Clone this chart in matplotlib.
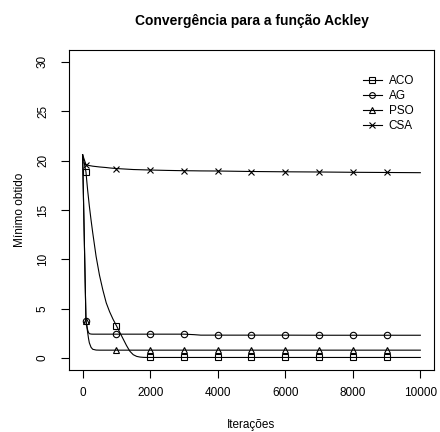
import matplotlib.pyplot as plt

plt.rcParams["font.family"] = ["Liberation Sans", "DejaVu Sans"]

iteracoes = [0, 100, 125, 150, 175, 200, 250, 300, 400, 500, 600, 700, 800, 900,
             1000, 1100, 1200, 1300, 1400, 1500, 1600, 1700, 1800, 1900, 2000,
             2500, 3000, 3300, 3500, 4000, 5000, 6000, 7000, 8000, 9000, 10000]

aco = [20.6, 18.85, 17.9, 17.0, 16.2, 15.4, 14.0, 12.7, 10.3, 8.4, 6.9, 5.6, 4.7, 3.95,
       3.3, 2.62, 1.95, 1.28, 0.7, 0.35, 0.18, 0.11, 0.08, 0.07, 0.07,
       0.07, 0.07, 0.07, 0.07, 0.07, 0.07, 0.07, 0.07, 0.07, 0.07, 0.07]

ag = [20.6, 3.75, 3.3, 2.85, 2.6, 2.48, 2.44, 2.43, 2.43, 2.43, 2.43, 2.43, 2.43, 2.43,
      2.43, 2.43, 2.43, 2.43, 2.43, 2.43, 2.43, 2.43, 2.43, 2.43, 2.43,
      2.43, 2.43, 2.38, 2.33, 2.33, 2.33, 2.33, 2.32, 2.32, 2.32, 2.32]

pso = [20.6, 3.75, 3.2, 2.6, 2.0, 1.55, 1.1, 0.9, 0.82, 0.81, 0.81, 0.81, 0.81, 0.81,
       0.81, 0.81, 0.81, 0.81, 0.81, 0.81, 0.81, 0.81, 0.81, 0.81, 0.81,
       0.81, 0.81, 0.81, 0.81, 0.81, 0.81, 0.81, 0.81, 0.81, 0.81, 0.81]

csa = [20.6, 19.6, 19.57, 19.55, 19.52, 19.5, 19.47, 19.44, 19.4, 19.36, 19.33, 19.3, 19.26, 19.23,
       19.2, 19.18, 19.16, 19.14, 19.12, 19.1, 19.09, 19.08, 19.07, 19.06, 19.05,
       19.01, 18.98, 18.97, 18.96, 18.95, 18.9, 18.87, 18.85, 18.82, 18.8, 18.78]

# marker positions: 100, 1000, 2000, ..., 9000
marcas = [iteracoes.index(v) for v in [100, 1000, 2000, 3000, 4000, 5000, 6000, 7000, 8000, 9000]]

fig = plt.figure(figsize=(4.4, 4.32), dpi=100)
ax = fig.add_axes([0.157, 0.1435, 0.829, 0.7407])

estilo = dict(color="black", linewidth=0.8, markersize=4.6, markerfacecolor="none",
              markeredgewidth=0.8, markevery=marcas)
ax.plot(iteracoes, aco, marker="s", label="ACO", **estilo)
ax.plot(iteracoes, ag, marker="o", label="AG", **estilo)
ax.plot(iteracoes, pso, marker="^", label="PSO", **estilo)
ax.plot(iteracoes, csa, marker="x", label="CSA", **estilo)

ax.set_xlim(-400, 10400)
ax.set_ylim(-1.2, 31.2)
ax.set_xticks([0, 2000, 4000, 6000, 8000, 10000])
ax.set_yticks([0, 5, 10, 15, 20, 25, 30])
ax.tick_params(direction="out", length=5.5, width=0.8, labelsize=8.5)
ax.tick_params(axis="x", pad=7)
ax.tick_params(axis="y", pad=9)
for lbl in ax.get_yticklabels():
    lbl.set_rotation(90)
    lbl.set_va("center")
for s in ax.spines.values():
    s.set_linewidth(0.8)

ax.set_title("Convergência para a função Ackley", fontsize=10, fontweight="bold", pad=18)
ax.set_xlabel("Iterações", fontsize=8.5, labelpad=14)
ax.set_ylabel("Mínimo obtido", fontsize=8.5, labelpad=8)

ax.legend(loc="upper right", bbox_to_anchor=(0.975, 0.955), frameon=False, fontsize=8.5,
          handlelength=1.6, handletextpad=0.6, labelspacing=0.25,
          markerscale=0.9)

fig.savefig("out.png", dpi=100)
